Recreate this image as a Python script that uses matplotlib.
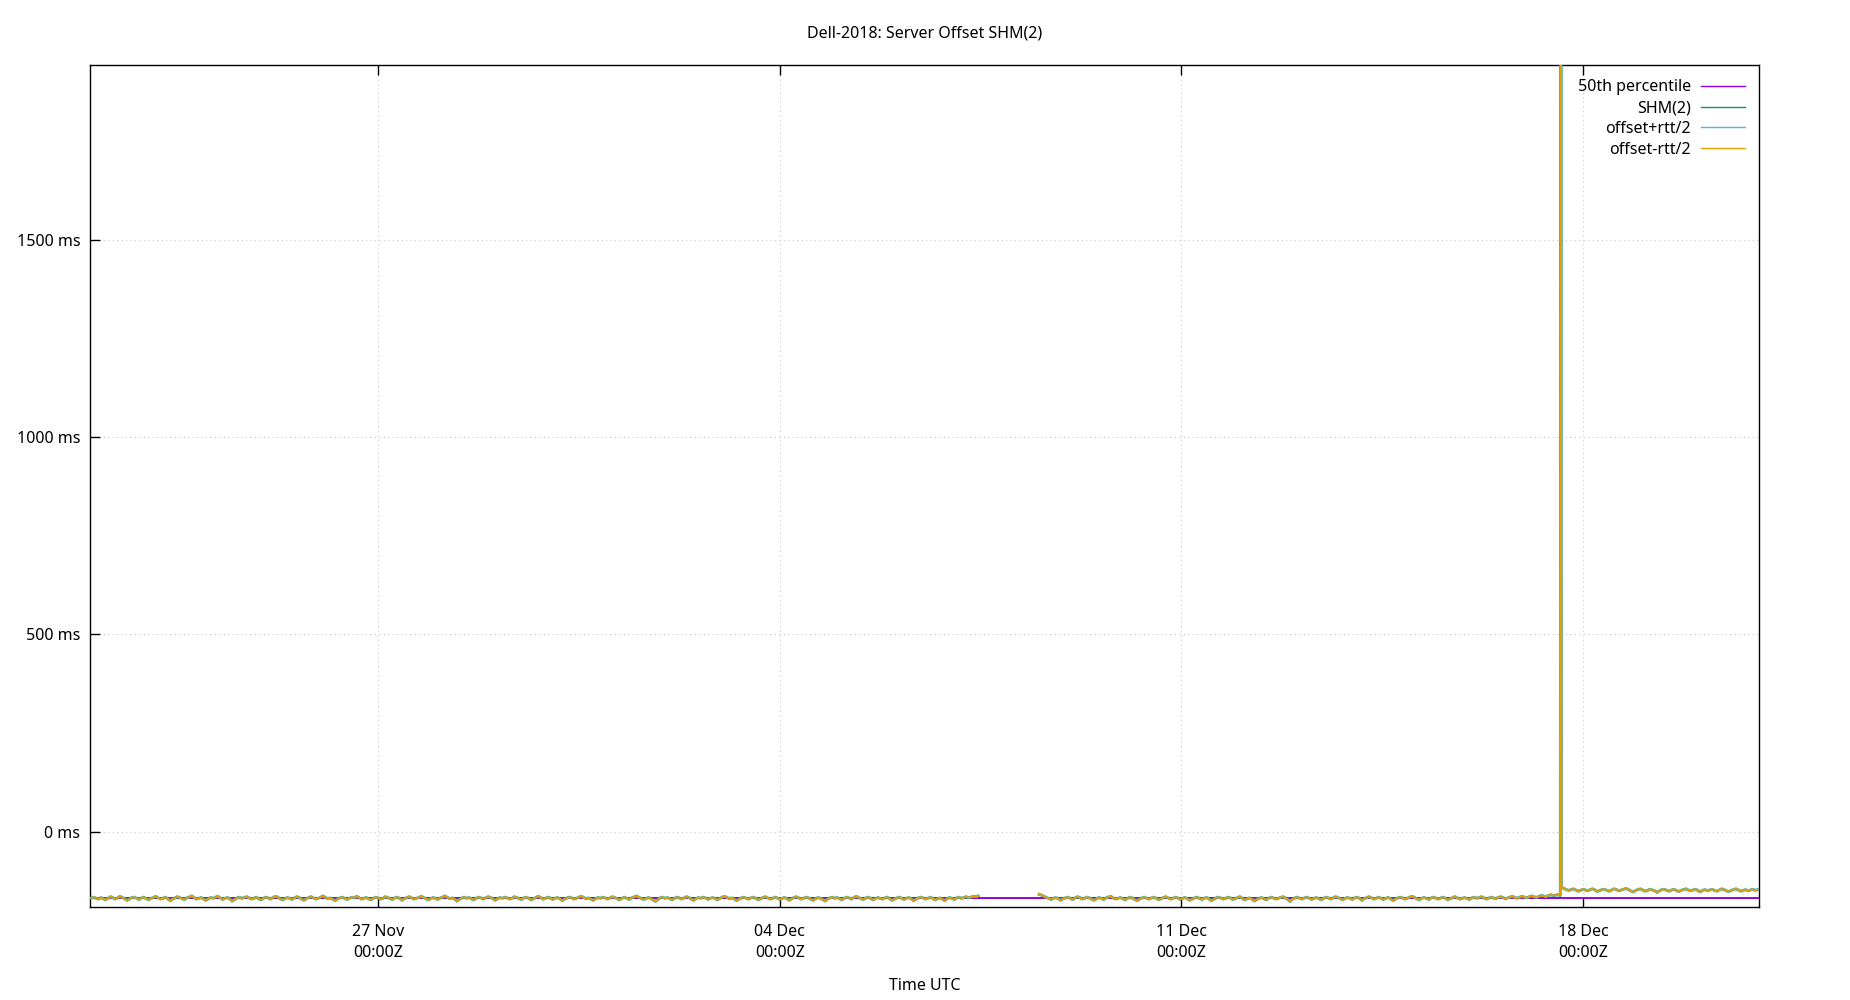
import matplotlib
matplotlib.use("Agg")
import matplotlib.pyplot as plt
import numpy as np
import pandas as pd

plt.rcParams['font.family'] = ['Noto Sans', 'DejaVu Sans']

# ---- data (ms), hourly samples ----
seg1_start = "2018-11-22 00:00"
seg1_offset = [
    -167,-165,-168,-170,-166,-169,-172,-168,-164,-166,-170,-167,-163,-166,-169,-173,-170,-166,-165,-168,-171,-167,-165,-169,
    -172,-168,-166,-163,-167,-170,-168,-165,-169,-174,-170,-167,-164,-166,-169,-171,-167,-165,-162,-166,-170,-168,-166,-170,
    -173,-169,-166,-168,-165,-163,-167,-171,-168,-166,-170,-175,-171,-167,-165,-168,-166,-164,-167,-170,-168,-165,-169,-172,
    -168,-165,-167,-170,-166,-163,-165,-169,-172,-169,-166,-168,-171,-167,-164,-166,-170,-173,-169,-166,-164,-167,-170,-168,
    -165,-162,-166,-169,-167,-170,-174,-170,-167,-165,-168,-171,-168,-165,-167,-163,-166,-170,-168,-166,-169,-172,-168,-165,
    -167,-170,-168,-164,-166,-169,-171,-167,-165,-168,-173,-169,-166,-164,-167,-170,-168,-166,-163,-166,-169,-172,-169,-166,
    -168,-171,-167,-165,-162,-166,-169,-167,-170,-175,-171,-167,-165,-168,-166,-169,-172,-168,-165,-167,-170,-167,-164,-166,
    -169,-173,-169,-166,-168,-165,-167,-170,-168,-164,-166,-169,-171,-167,-165,-168,-172,-169,-166,-163,-166,-170,-168,-165,
    -167,-171,-168,-166,-169,-174,-170,-167,-165,-167,-170,-168,-165,-163,-166,-169,-167,-170,-173,-169,-166,-168,-165,-167,
    -170,-167,-164,-166,-169,-172,-168,-165,-168,-171,-167,-165,-162,-165,-168,-171,-169,-166,-168,-172,-176,-171,-167,-165,
    -168,-166,-169,-172,-168,-165,-167,-170,-167,-164,-166,-170,-173,-169,-166,-168,-165,-167,-171,-168,-166,-169,-172,-168,
    -165,-163,-166,-169,-167,-170,-174,-170,-167,-165,-168,-170,-167,-165,-168,-172,-169,-166,-164,-167,-170,-168,-165,-167,
    -171,-168,-166,-169,-173,-169,-166,-164,-167,-170,-168,-165,-167,-170,-173,-169,-166,-168,-171,-175,-170,-167,-165,-168,
    -166,-169,-172,-168,-165,-167,-170,-166,-163,-166,-169,-171,-167,-165,-168,-172,-169,-166,-168,-170,-167,-165,-169,-173,
    -170,-167,-165,-168,-171,-168,-166,-169,-174,-170,-167,-165,-167,-170,-168,-165,-168,-172,-169,-167,-170,-174,-169,-166,
    -168,-171,-167,-165,-168,-166,-164,-167,-165,-163,-164,-162,
]
seg2_start = "2018-12-08 12:30"
seg2_offset = [
    -158,-160,-163,-166,-168,-171,-168,-166,-169,-173,-169,-167,-165,-168,-171,-167,-164,-166,-170,-168,-165,-167,-170,-173,
    -169,-166,-168,-171,-167,-165,-163,-167,-170,-168,-166,-169,-172,-168,-165,-167,-171,-174,-170,-167,-165,-168,-170,-167,
    -165,-168,-172,-169,-166,-164,-167,-170,-168,-165,-167,-171,-168,-166,-169,-173,-170,-167,-165,-168,-171,-168,-166,-169,
    -174,-171,-167,-165,-167,-170,-168,-165,-167,-171,-169,-166,-164,-168,-172,-169,-167,-170,-175,-171,-168,-166,-169,-172,
    -168,-165,-167,-170,-168,-166,-164,-167,-171,-176,-170,-167,-165,-168,-170,-167,-165,-168,-171,-168,-166,-169,-172,-168,
    -165,-167,-170,-167,-164,-166,-169,-172,-168,-166,-168,-171,-167,-165,-168,-173,-169,-166,-164,-167,-170,-168,-165,-168,
    -171,-168,-166,-169,-174,-170,-167,-165,-167,-170,-168,-165,-163,-166,-169,-172,-168,-166,-168,-171,-167,-165,-168,-170,
    -167,-165,-168,-172,-169,-166,-164,-167,-170,-168,-166,-169,-171,-167,-165,-168,-166,-164,-167,-170,-168,-165,-167,-169,
    -166,-164,-166,-169,-167,-165,-163,-166,-168,-165,-163,-165,-167,-164,-162,-164,-166,-163,-161,-162,-164,-161,-159,-161,
    -160,-159,-161,
]
spike_time = "2018-12-17 14:45"
spike_offset = [2100]
seg3_start = "2018-12-17 15:00"
seg3_offset = [
    -140,-143,-146,-148,-146,-144,-147,-150,-148,-145,-147,-149,-146,-144,-147,-151,-148,-146,-145,-148,-150,-147,-144,-146,
    -149,-147,-145,-143,-146,-149,-152,-148,-146,-144,-147,-150,-148,-145,-147,-149,-153,-149,-146,-145,-148,-150,-147,-145,
    -148,-151,-148,-146,-144,-147,-149,-147,-145,-148,-152,-148,-146,-149,-147,-145,-148,-150,-147,-144,-146,-149,-151,-148,
    -146,-144,-147,-150,-148,-146,-149,-147,-145,-148,-146,
]
median_ms = -168
x_range = ["2018-11-21 23:30", "2018-12-21 01:37"]
y_range = [-190, 1942]
y_ticks = [0, 500, 1000, 1500]
x_ticks = ["2018-11-27", "2018-12-04", "2018-12-11", "2018-12-18"]
x_tick_labels = ["27 Nov\n00:00Z", "04 Dec\n00:00Z", "11 Dec\n00:00Z", "18 Dec\n00:00Z"]

t1 = pd.date_range(seg1_start, periods=len(seg1_offset), freq="1h")
t2 = pd.date_range(seg2_start, periods=len(seg2_offset), freq="1h")
ts = pd.to_datetime([spike_time])
t3 = pd.date_range(seg3_start, periods=len(seg3_offset), freq="1h")

# gap between segment 1 and 2 -> NaN break
gap_t = pd.to_datetime(["2018-12-08 00:00"])
times = t1.append(gap_t).append(t2).append(ts).append(t3)
offset = np.array(seg1_offset + [np.nan] + seg2_offset + spike_offset + seg3_offset, dtype=float)

FS = 11.5
fig = plt.figure(figsize=(18.5, 10), dpi=100)
ax = fig.add_axes([90/1850, 1-907/1000, (1759-90)/1850, (907-65)/1000])

xr = pd.to_datetime(x_range)
ax.plot(xr, [median_ms, median_ms], color="#9400d3", lw=1.4, label="50th percentile", zorder=3)
ax.plot(times, offset, color="#009e73", lw=2.1, alpha=0.8, label="SHM(2)", zorder=4)
ax.plot(times, offset, color="#56b4e9", lw=1.7, alpha=0.8, label="offset+rtt/2", zorder=5)
ax.plot(times, offset, color="#e69f00", lw=1.3, label="offset-rtt/2", zorder=6)

ax.set_xlim(xr[0], xr[1])
ax.set_ylim(*y_range)
ax.set_yticks(y_ticks)
ax.set_yticklabels([f"{v} ms" for v in y_ticks])
ax.set_xticks(pd.to_datetime(x_ticks))
ax.set_xticklabels(x_tick_labels, linespacing=1.45)

ax.tick_params(axis="both", direction="in", length=7, width=1, labelsize=FS,
               colors="black")
ax.tick_params(axis="x", top=True, pad=12)
ax.tick_params(axis="y", right=False, pad=7)
ax.grid(True, linestyle=(0, (1, 3)), color="#c8c8c8", lw=0.8)
for s in ax.spines.values():
    s.set_linewidth(1.0)

fig.text(0.5, 1-33/1000, "Dell-2018: Server Offset SHM(2)", ha="center", va="center", fontsize=FS)
fig.text(0.5, 1-986/1000, "Time UTC", ha="center", va="center", fontsize=FS)

leg = ax.legend(loc="upper right", frameon=False, markerfirst=False, fontsize=FS,
                handlelength=2.75, handletextpad=0.6, labelspacing=0.3,
                borderaxespad=0.7, borderpad=0.2)
for t in leg.get_texts():
    t.set_ha("right")
for h in leg.legend_handles:
    h.set_linewidth(1.0)
    h.set_alpha(1.0)

fig.savefig("out.png", dpi=100)
